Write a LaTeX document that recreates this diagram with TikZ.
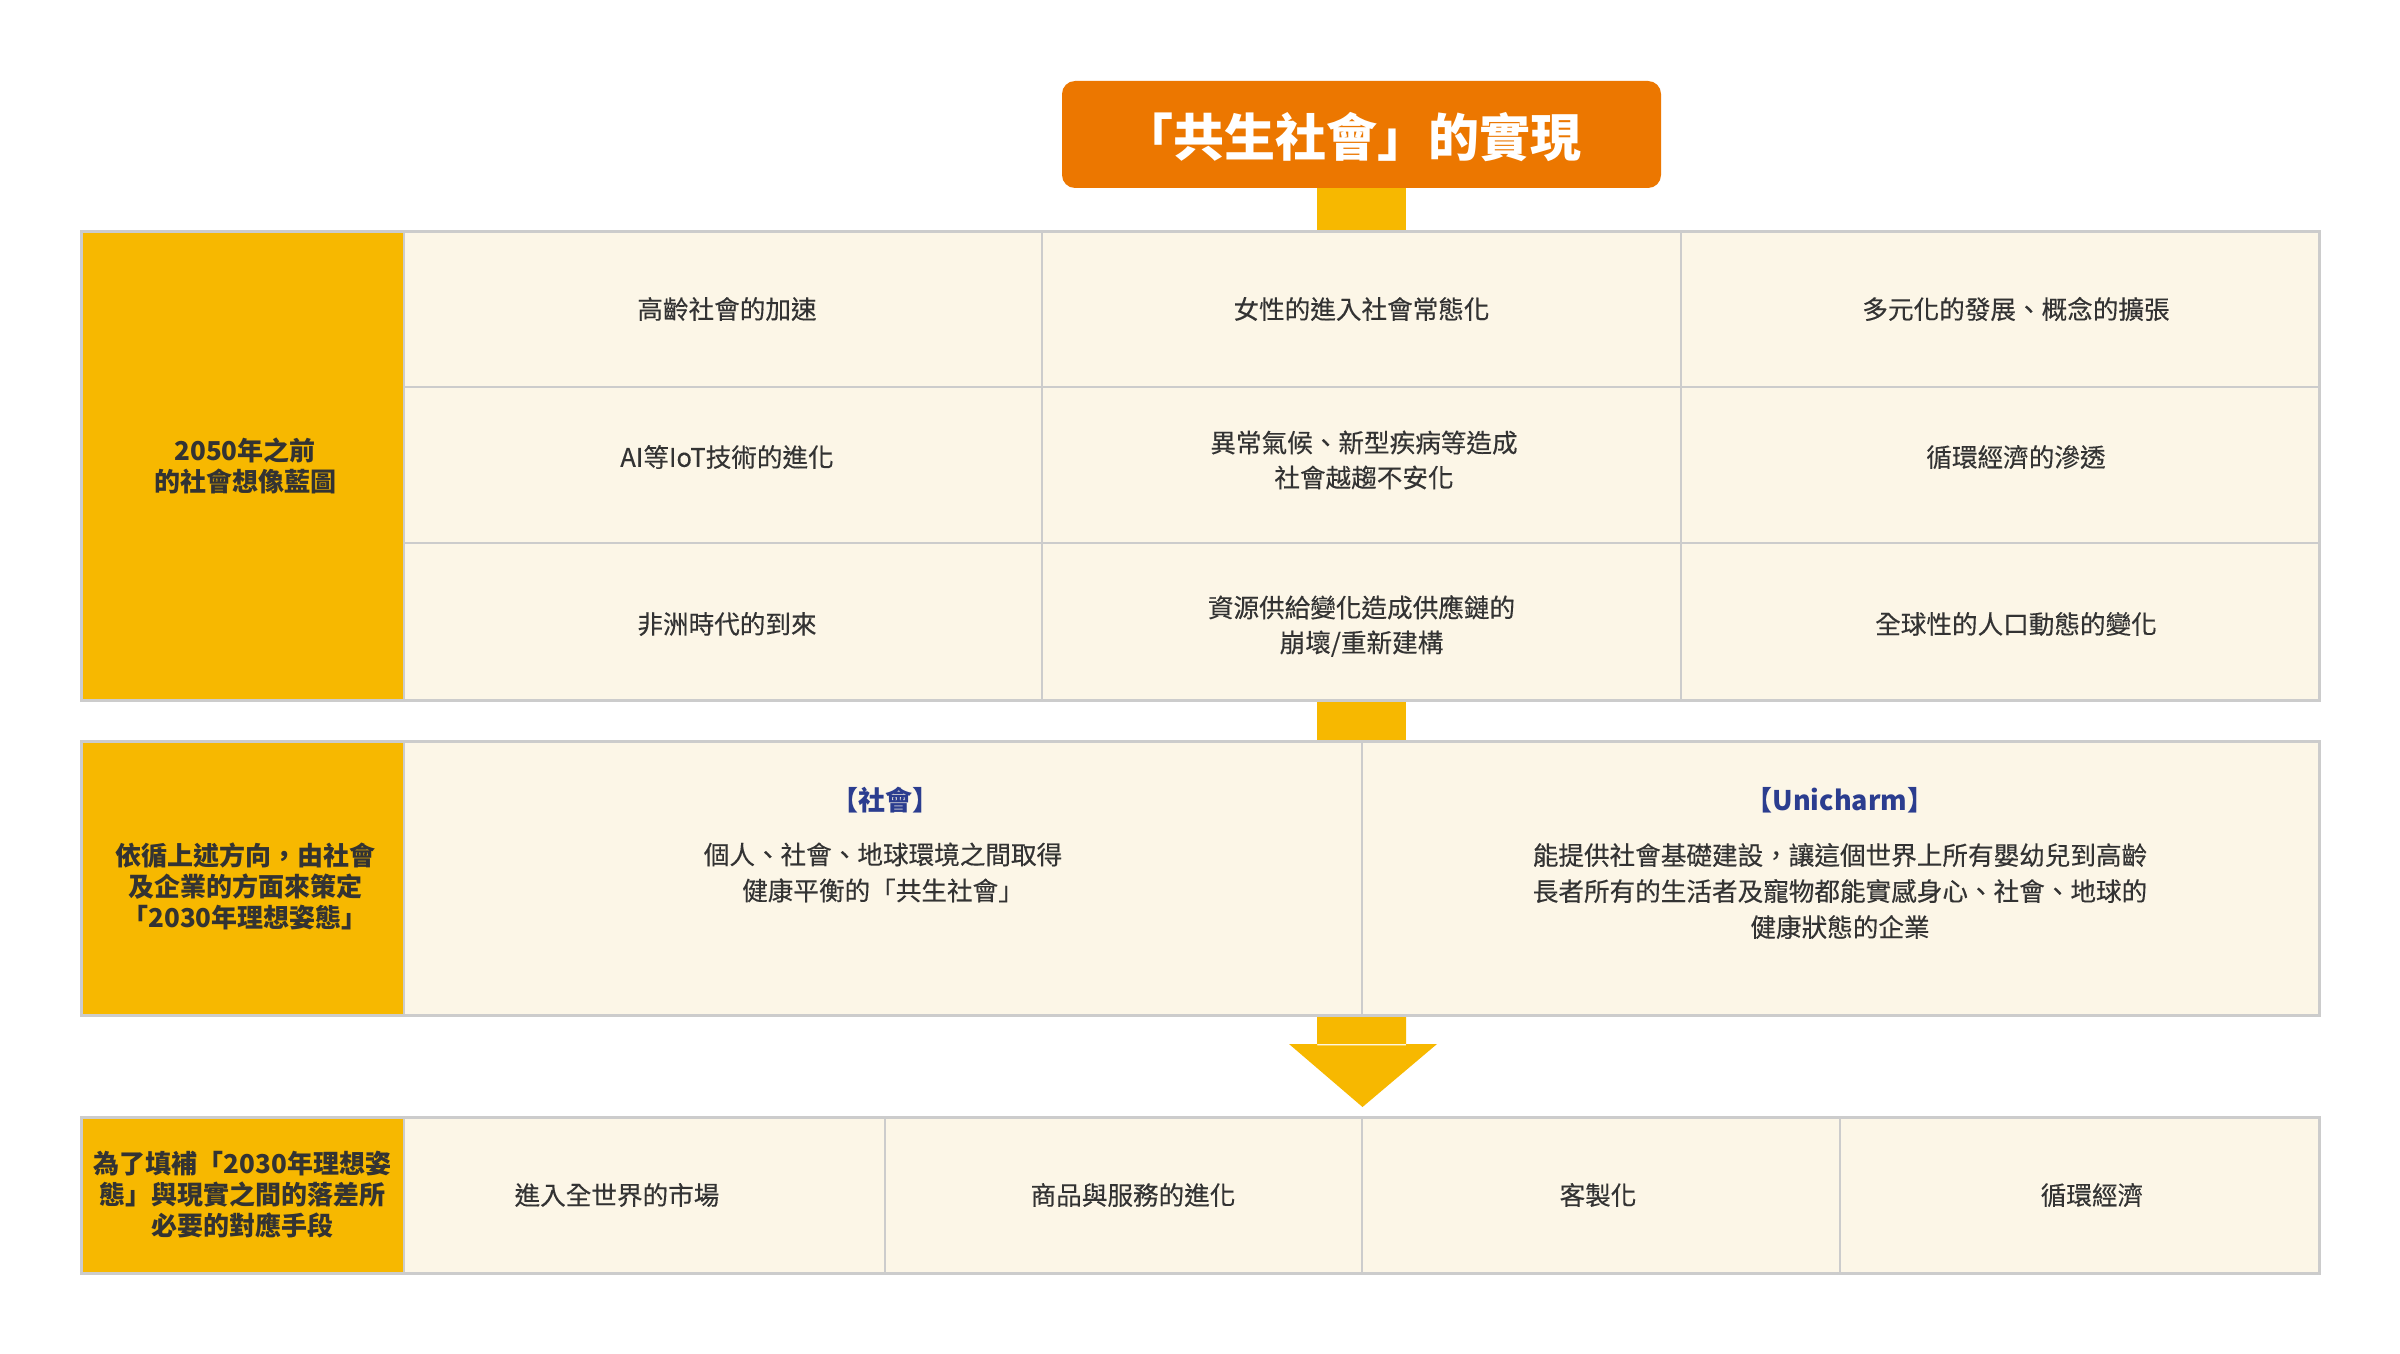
\documentclass[tikz,border=0pt]{standalone}
\usepackage{fontspec}
\usetikzlibrary{calc}
\setmainfont{Noto Sans CJK TC}
\newfontfamily\bodyfont[FakeBold=0.3]{Noto Sans CJK TC}
\definecolor{orangec}{HTML}{EC7700}
\definecolor{yellowc}{HTML}{F7B800}
\definecolor{creamc}{HTML}{FCF6E7}
\definecolor{gridc}{HTML}{CCCCCC}
\definecolor{textc}{HTML}{333333}
\definecolor{bluec}{HTML}{2B3D8F}
\begin{document}
\begin{tikzpicture}[x=0.5pt,y=-0.5pt,
  cell/.style={fill=creamc,draw=gridc,line width=1pt},
  lcell/.style={fill=yellowc,draw=gridc,line width=1pt},
  frame/.style={draw=gridc,line width=1.5pt,inner sep=0pt,fill=none},
  link/.style={fill=yellowc,draw=none},
  txt/.style={text=textc,font=\bodyfont\fontsize{12.8}{17.5}\selectfont,align=center,inner sep=0pt},
  btxt/.style={text=textc,font=\bodyfont\fontsize{12.8}{18}\selectfont,align=center,inner sep=0pt},
  ltxt/.style={text=textc,font=\fontsize{13}{15.5}\selectfont\bfseries,align=center,inner sep=0pt},
  head/.style={text=bluec,font=\fontsize{13.5}{16}\selectfont\bfseries,align=center,inner sep=0pt}]
\useasboundingbox[fill=white] (0,0) rectangle (2400,1354);

% title
\node[fill=orangec,rounded corners=6.5pt,minimum width=299.5pt,minimum height=53.5pt,inner sep=0pt] (title) at (1361.5,134.5) {};
\node[text=white,font=\fontsize{25.5}{30}\selectfont\bfseries,inner sep=0pt] (titletext) at (1352,137) {「共生社會」的實現};

% frames (positions)
\path (1200,465.5) node[minimum width=1119pt,minimum height=234.5pt,inner sep=0pt] (tab1) {};
\path (1200,878) node[minimum width=1119pt,minimum height=137pt,inner sep=0pt] (tab2) {};
\path (1200,1195) node[minimum width=1119pt,minimum height=78pt,inner sep=0pt] (tab3) {};

% connectors
\coordinate (la) at ([xshift=-22.25pt]title.south);
\coordinate (lb) at ([xshift=22.25pt]title.south);
\fill[link] (la) rectangle (lb |- tab1.north);
\fill[link] (la |- tab1.south) rectangle (lb |- tab2.north);
\coordinate (ar1) at (la |- tab2.south);
\coordinate (ar2) at ($(lb |- tab2.south)+(0,30)$);
\coordinate (tip) at (1362.5,1107);
\fill[link] (ar1) rectangle (ar2)
  (1289,1044) -- (1437,1044) -- (tip) -- cycle;

% table 1
\path[lcell] (81,231) rectangle (404,700);
\foreach \xa/\xb in {404/1042,1042/1681,1681/2319}{
  \foreach \ya/\yb in {231/387,387/543,543/700}{
    \path[cell] (\xa,\ya) rectangle (\xb,\yb);
  }
}
\node[frame,minimum width=1119pt,minimum height=234.5pt] at (tab1) {};
\node[ltxt] (l1) at (245,465.5) {2050年之前\\的社會想像藍圖};
\node[txt] (a11) at (727,309) {高齡社會的加速};
\node[txt] (a12) at (1361.5,309) {女性的進入社會常態化};
\node[txt] (a13) at (2016,309) {多元化的發展、概念的擴張};
\node[txt] (a21) at (727,457) {AI等IoT技術的進化};
\node[txt] (a22) at (1364,460) {異常氣候、新型疾病等造成\\社會越趨不安化};
\node[txt] (a23) at (2016,457) {循環經濟的滲透};
\node[txt] (a31) at (727,624) {非洲時代的到來};
\node[txt] (a32) at (1361.5,626) {資源供給變化造成供應鏈的\\崩壞/重新建構};
\node[txt] (a33) at (2016,624) {全球性的人口動態的變化};

% table 2
\path[lcell] (81,741) rectangle (404,1015);
\path[cell] (404,741) rectangle (1362,1015);
\path[cell] (1362,741) rectangle (2319,1015);
\node[frame,minimum width=1119pt,minimum height=137pt] at (tab2) {};
\node[ltxt] (l2) at (245,886) {依循上述方向，由社會\\及企業的方面來策定\\「2030年理想姿態」};
\node[head] (h1) at (885,800) {【社會】};
\node[btxt] (b1) at (883,872.5) {個人、社會、地球環境之間取得\\健康平衡的「共生社會」};
\node[head] (h2) at (1840,800) {【Unicharm】};
\node[btxt] (b2) at (1840,891) {能提供社會基礎建設，讓這個世界上所有嬰幼兒到高齡\\長者所有的生活者及寵物都能實感身心、社會、地球的\\健康狀態的企業};

% table 3
\path[lcell] (81,1117) rectangle (404,1273);
\foreach \xa/\xb in {404/885,885/1362,1362/1840,1840/2319}{
  \path[cell] (\xa,1117) rectangle (\xb,1273);
}
\node[frame,minimum width=1119pt,minimum height=78pt] at (tab3) {};
\node[ltxt] (l3) at (242.5,1195) {為了填補「2030年理想姿\\態」與現實之間的落差所\\必要的對應手段};
\node[txt] (c1) at (617,1195) {進入全世界的市場};
\node[txt] (c2) at (1133,1195) {商品與服務的進化};
\node[txt] (c3) at (1598,1195) {客製化};
\node[txt] (c4) at (2092,1195) {循環經濟};
\end{tikzpicture}
\end{document}
